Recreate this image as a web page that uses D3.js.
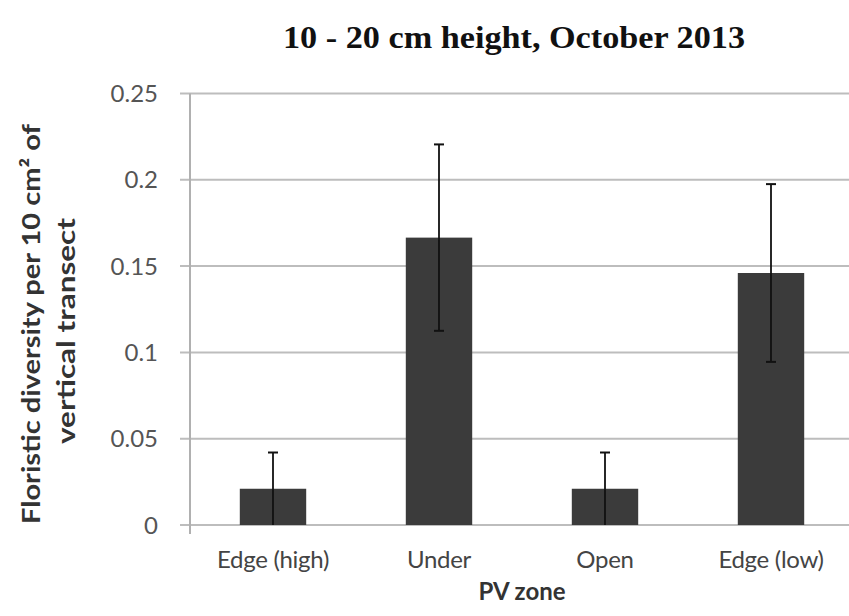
<!DOCTYPE html>
<html><head><meta charset="utf-8">
<script src="https://cdn.jsdelivr.net/npm/d3@7"></script>
<style>body{margin:0;background:#fff}svg{display:block}</style>
</head><body>
<script>
const categories = ["Edge (high)", "Under", "Open", "Edge (low)"];
const values = [0.021, 0.1665, 0.021, 0.146];
const errors = [0.021, 0.054, 0.021, 0.0515];
const yTicks = [0, 0.05, 0.1, 0.15, 0.2, 0.25];
const yTickLabels = ["0", "0.05", "0.1", "0.15", "0.2", "0.25"];
const title = "10 - 20 cm height, October 2013";
const yTitle = ["Floristic diversity per 10 cm\u00B2 of", "vertical transect"];
const xTitle = "PV zone";

(function () {
const W = 849, H = 616;
const svg = d3.select("body").append("svg").attr("width", W).attr("height", H);
const pLeft = 190, pRight = 854, pTop = 93.5, pBottom = 525;
const x = d3.scaleBand().domain(categories).range([pLeft, pRight]);
const y = d3.scaleLinear().domain([0, 0.25]).range([pBottom, pTop]);
const font = "Lato, 'Open Sans', sans-serif";

// gridlines
svg.append("g").selectAll("line").data(yTicks).join("line")
  .attr("x1", pLeft - 10).attr("x2", W).attr("y1", d => y(d)).attr("y2", d => y(d))
  .attr("stroke", "#bdbdbd").attr("stroke-width", 2);

// y axis line
svg.append("line").attr("x1", pLeft).attr("x2", pLeft).attr("y1", pTop).attr("y2", pBottom + 9)
  .attr("stroke", "#b0b0b0").attr("stroke-width", 2);

// y tick labels
svg.append("g").selectAll("text").data(yTicks).join("text")
  .attr("x", 158).attr("y", d => y(d)).attr("dy", "0.36em")
  .attr("text-anchor", "end").attr("font-family", font).attr("font-size", 24)
  .attr("fill", "#555").text((d, i) => yTickLabels[i]);

// bars
const bw = x.bandwidth() * 0.4;
svg.append("g").selectAll("rect").data(categories).join("rect")
  .attr("x", d => x(d) + x.bandwidth() / 2 - bw / 2)
  .attr("width", bw)
  .attr("y", (d, i) => y(values[i]))
  .attr("height", (d, i) => y(0) - y(values[i]))
  .attr("fill", "#3b3b3b");

// error bars
const eg = svg.append("g");
categories.forEach((c, i) => {
  const cx = x(c) + x.bandwidth() / 2;
  const lo = Math.max(0, values[i] - errors[i]), hi = values[i] + errors[i];
  eg.append("line").attr("x1", cx).attr("x2", cx).attr("y1", y(lo)).attr("y2", y(hi))
    .attr("stroke", "#111").attr("stroke-width", 1.8);
  eg.append("line").attr("x1", cx - 5).attr("x2", cx + 5).attr("y1", y(hi)).attr("y2", y(hi))
    .attr("stroke", "#111").attr("stroke-width", 2);
  if (values[i] - errors[i] > 0.0005)
    eg.append("line").attr("x1", cx - 5).attr("x2", cx + 5).attr("y1", y(lo)).attr("y2", y(lo))
      .attr("stroke", "#111").attr("stroke-width", 2);
});

// x labels
svg.append("g").selectAll("text").data(categories).join("text")
  .attr("x", d => x(d) + x.bandwidth() / 2).attr("y", 568)
  .attr("text-anchor", "middle").attr("font-family", font).attr("font-size", 24)
  .attr("letter-spacing", -0.3)
  .attr("fill", "#444").text(d => d);

// x title
svg.append("text").attr("x", 522).attr("y", 600).attr("text-anchor", "middle")
  .attr("font-family", font).attr("font-weight", "bold").attr("font-size", 24)
  .attr("fill", "#333").text(xTitle);

// y title
svg.append("text").attr("transform", "translate(40,324) rotate(-90)")
  .attr("text-anchor", "middle").attr("font-family", font).attr("font-weight", "bold")
  .attr("font-size", 25).attr("fill", "#333")
  .attr("textLength", 400).attr("lengthAdjust", "spacingAndGlyphs").text(yTitle[0]);
svg.append("text").attr("transform", "translate(75,331) rotate(-90)")
  .attr("text-anchor", "middle").attr("font-family", font).attr("font-weight", "bold")
  .attr("font-size", 25).attr("fill", "#333")
  .attr("textLength", 226).attr("lengthAdjust", "spacingAndGlyphs").text(yTitle[1]);

// title
svg.append("text").attr("x", 514).attr("y", 48).attr("text-anchor", "middle")
  .attr("font-family", "'Liberation Serif', 'Times New Roman', serif").attr("font-weight", "bold")
  .attr("font-size", 32).attr("fill", "#111")
  .attr("textLength", 462).attr("lengthAdjust", "spacingAndGlyphs").text(title);
})();
</script>
</body></html>
